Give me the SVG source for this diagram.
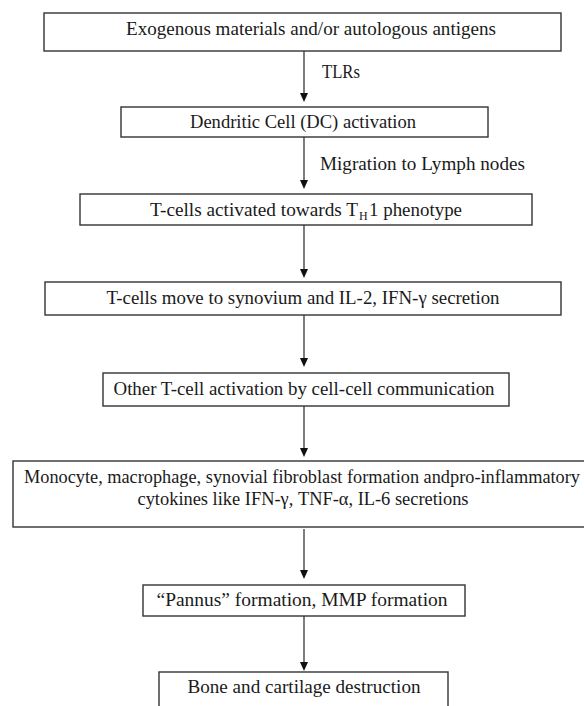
<svg xmlns="http://www.w3.org/2000/svg" width="584" height="706" viewBox="0 0 584 706">
<defs>
<style>
.box{fill:#fff;stroke:#333;stroke-width:1.4}
text{font-family:'Liberation Serif','DejaVu Serif',serif;font-size:18px;fill:#1a1a1a}
.t{text-anchor:middle}
.l{text-anchor:start}
.sub{font-size:12px}
.c{stroke:#111;stroke-width:1.1;fill:none}
.h{fill:#111}
</style>
</defs>
<rect width="584" height="706" fill="#fff"/>
<g id="connectors">
<line class="c" x1="304" y1="51" x2="304" y2="93"/><path class="h" d="M300,93 L308,93 L304,102 Z"/>
<line class="c" x1="304" y1="137" x2="304" y2="180"/><path class="h" d="M300,180 L308,180 L304,189 Z"/>
<line class="c" x1="304" y1="225" x2="304" y2="269"/><path class="h" d="M300,269 L308,269 L304,278 Z"/>
<line class="c" x1="304" y1="315" x2="304" y2="358"/><path class="h" d="M300,358 L308,358 L304,367 Z"/>
<line class="c" x1="304" y1="406" x2="304" y2="448"/><path class="h" d="M300,448 L308,448 L304,457 Z"/>
<line class="c" x1="304" y1="529" x2="304" y2="570"/><path class="h" d="M300,570 L308,570 L304,579 Z"/>
<line class="c" x1="304" y1="616" x2="304" y2="662"/><path class="h" d="M300,662 L308,662 L304,671 Z"/>
<text class="l" x="322" y="78" textLength="38" lengthAdjust="spacingAndGlyphs">TLRs</text>
<text class="l" x="320" y="170" textLength="205" lengthAdjust="spacingAndGlyphs">Migration to Lymph nodes</text>
</g>
<g id="n1">
<rect class="box" x="44" y="13" width="517" height="38"/>
<text class="t" x="311" y="35" textLength="370" lengthAdjust="spacingAndGlyphs">Exogenous materials and/or autologous antigens</text>
</g>
<g id="n2">
<rect class="box" x="121" y="107" width="367" height="30"/>
<text class="t" x="303" y="128" textLength="226" lengthAdjust="spacingAndGlyphs">Dendritic Cell (DC) activation</text>
</g>
<g id="n3">
<rect class="box" x="80" y="194" width="452" height="31"/>
<text class="l" x="150" y="216" textLength="208" lengthAdjust="spacingAndGlyphs">T-cells activated towards T</text>
<text class="l sub" x="359" y="220">H</text>
<text class="l" x="369" y="216" textLength="93" lengthAdjust="spacingAndGlyphs">1 phenotype</text>
</g>
<g id="n4">
<rect class="box" x="45" y="282" width="516" height="33"/>
<text class="t" x="303" y="304" textLength="393" lengthAdjust="spacingAndGlyphs">T-cells move to synovium and IL-2, IFN-γ secretion</text>
</g>
<g id="n5">
<rect class="box" x="103" y="373" width="406" height="33"/>
<text class="t" x="304" y="395" textLength="381" lengthAdjust="spacingAndGlyphs">Other T-cell activation by cell-cell communication</text>
</g>
<g id="n6">
<rect class="box" x="13" y="461" width="590" height="66"/>
<text class="t" x="302" y="483" textLength="556" lengthAdjust="spacingAndGlyphs">Monocyte, macrophage, synovial fibroblast formation andpro-inflammatory</text>
<text class="t" x="303" y="505" textLength="331" lengthAdjust="spacingAndGlyphs">cytokines like IFN-γ, TNF-α, IL-6 secretions</text>
</g>
<g id="n7">
<rect class="box" x="143" y="585" width="322" height="31"/>
<text class="t" x="302" y="606" textLength="291" lengthAdjust="spacingAndGlyphs">“Pannus” formation, MMP formation</text>
</g>
<g id="n8">
<rect class="box" x="159" y="672" width="289" height="50"/>
<text class="t" x="304" y="693" textLength="233" lengthAdjust="spacingAndGlyphs">Bone and cartilage destruction</text>
</g>
</svg>
